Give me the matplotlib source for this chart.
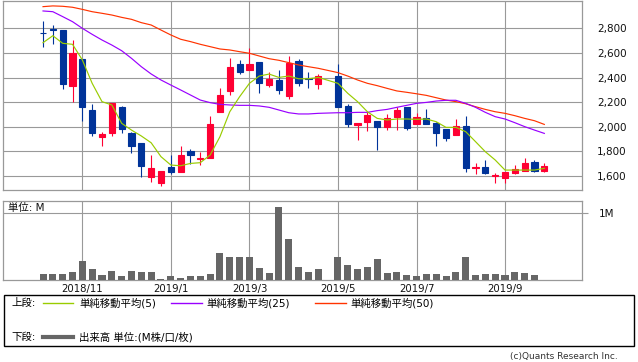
import matplotlib
matplotlib.use("Agg")
import matplotlib.pyplot as plt
import matplotlib.dates as mdates
from matplotlib.patches import Rectangle
from matplotlib.lines import Line2D
import pandas as pd
import numpy as np

plt.rcParams['font.family'] = ['DejaVu Sans', 'Noto Sans CJK JP']

# ---- data (weekly, Golden Week 2019-04-29 had no trading) ----
weeks = [d for d in pd.date_range('2018-10-08', '2019-09-30', freq='W-MON')
         if d != pd.Timestamp('2019-04-29')]

opens  = [2765, 2797, 2786, 2334, 2551, 2136, 1919, 1952, 2160, 1952, 1868, 1594, 1545,
          1673, 1635, 1803, 1740, 1749, 2122, 2293, 2510, 2464, 2526, 2342, 2380, 2250,
          2534, 2394, 2350, 2412, 2169, 2017, 2041, 2047, 1998, 2082, 2160, 2025, 2071,
          2028, 1982, 1935, 2006, 1668, 1670, 1600, 1580, 1621, 1640, 1711, 1643]
highs  = [2860, 2827, 2786, 2705, 2551, 2182, 1955, 2196, 2169, 1960, 1868, 1770, 1640,
          1770, 1843, 1819, 1795, 2087, 2312, 2556, 2543, 2643, 2526, 2445, 2461, 2575,
          2548, 2445, 2428, 2510, 2185, 2028, 2122, 2047, 2104, 2157, 2160, 2109, 2144,
          2036, 1982, 2063, 2087, 1702, 1727, 1621, 1635, 1686, 1746, 1727, 1705]
lows   = [2651, 2670, 2310, 2204, 2049, 1927, 1846, 1927, 1952, 1789, 1594, 1553, 1521,
          1618, 1635, 1697, 1692, 1749, 2122, 2261, 2431, 2464, 2277, 2326, 2269, 2228,
          2334, 2315, 2309, 2163, 2001, 1892, 1968, 1811, 1976, 1976, 1976, 2025, 2025,
          1846, 1887, 1935, 1635, 1612, 1612, 1539, 1539, 1612, 1640, 1635, 1632]
closes = [2760, 2790, 2350, 2602, 2163, 1952, 1941, 2190, 1984, 1846, 1684, 1664, 1640,
          1632, 1770, 1773, 1746, 2022, 2258, 2486, 2448, 2510, 2358, 2388, 2301, 2518,
          2358, 2388, 2412, 2163, 2025, 2028, 2095, 1998, 2071, 2133, 1992, 2079, 2025,
          1952, 1911, 2006, 1667, 1672, 1627, 1604, 1629, 1654, 1702, 1640, 1681]

ma5  = [2683, 2740, 2678, 2670, 2543, 2353, 2204, 2177, 2028, 1973, 1925, 1870, 1757,
        1689, 1683, 1702, 1708, 1770, 1919, 2122, 2244, 2353, 2412, 2428, 2401, 2412,
        2390, 2390, 2401, 2353, 2272, 2204, 2122, 2068, 2055, 2063, 2063, 2060, 2063,
        2041, 1995, 1995, 1960, 1879, 1797, 1730, 1648, 1648, 1648, 1648, 1662]
ma25 = [2941, 2935, 2895, 2854, 2800, 2751, 2705, 2664, 2618, 2556, 2488, 2429, 2380,
        2339, 2299, 2258, 2217, 2196, 2182, 2177, 2174, 2174, 2169, 2158, 2136, 2114,
        2104, 2104, 2109, 2114, 2114, 2117, 2117, 2131, 2141, 2158, 2174, 2190, 2198,
        2209, 2215, 2215, 2190, 2158, 2117, 2082, 2063, 2033, 2001, 1973, 1946]
ma50 = [2976, 2982, 2979, 2971, 2954, 2935, 2922, 2908, 2889, 2873, 2846, 2827, 2786,
        2746, 2711, 2692, 2670, 2651, 2632, 2624, 2610, 2597, 2575, 2553, 2540, 2521,
        2502, 2488, 2475, 2440, 2412, 2380, 2353, 2334, 2312, 2291, 2280, 2268, 2255,
        2236, 2217, 2204, 2187, 2163, 2141, 2122, 2109, 2090, 2068, 2049, 2019]

volume = [0.09, 0.09, 0.09, 0.12, 0.285, 0.165, 0.075, 0.135, 0.06, 0.135, 0.12, 0.12,
          0.015, 0.06, 0.03, 0.06, 0.06, 0.09, 0.405, 0.345, 0.345, 0.345, 0.18, 0.105,
          1.095, 0.62, 0.195, 0.12, 0.165, 0.345, 0.225, 0.165, 0.195, 0.315, 0.105,
          0.12, 0.075, 0.06, 0.09, 0.09, 0.06, 0.12, 0.345, 0.075, 0.09, 0.09, 0.075,
          0.12, 0.105, 0.075, 0.005]

month_ticks = ['2018-11-05', '2019-01-07', '2019-03-04', '2019-05-06', '2019-07-01', '2019-09-02']
month_labels = ['2018/11', '2019/1', '2019/3', '2019/5', '2019/7', '2019/9']
price_ticks = [1600, 1800, 2000, 2200, 2400, 2600, 2800]

# ---- styling ----
UP = '#ff0033'
DOWN = '#003399'
C5, C25, C50 = '#99cc00', '#9900ff', '#ff3300'
GRID = '#999999'
VOLC = '#666666'

W, H = 638, 362
fig = plt.figure(figsize=(W / 100, H / 100), dpi=100)

def fx(px):
    return px / W

def fy(py):
    return 1 - py / H

x = mdates.date2num(weeks)
mt = mdates.date2num(pd.to_datetime(month_ticks))
xmin = mdates.date2num(pd.Timestamp('2018-09-09 12:00'))
xmax = mdates.date2num(pd.Timestamp('2019-10-26 20:00'))

ax1 = fig.add_axes([fx(3), fy(190), fx(579), 189.5 / H])
ax2 = fig.add_axes([fx(3), fy(280), fx(579), 79 / H])

for ax in (ax1, ax2):
    ax.set_xlim(xmin, xmax)
    for s in ax.spines.values():
        s.set_color(GRID)
        s.set_linewidth(0.9)
    ax.set_xticks(mt)
    ax.grid(True, color=GRID, linewidth=0.8)
    ax.set_axisbelow(True)
    ax.yaxis.tick_right()

# ---- candles ----
o = np.array(opens); c = np.array(closes); h = np.array(highs); l = np.array(lows)
cols = [UP if cc >= oo else DOWN for oo, cc in zip(o, c)]
ax1.vlines(x, l, h, colors=cols, linewidth=0.8, zorder=3)
ax1.bar(x, np.abs(c - o), bottom=np.minimum(o, c), width=4.4, color=cols,
        edgecolor=cols, linewidth=0.8, zorder=4)

ax1.plot(x, ma50, color=C50, linewidth=0.85, zorder=5)
ax1.plot(x, ma25, color=C25, linewidth=0.85, zorder=5)
ax1.plot(x, ma5, color=C5, linewidth=0.85, zorder=5)

ax1.set_ylim(1486, 3026)
ax1.set_yticks(price_ticks)
ax1.set_yticklabels([f'{v:,}' for v in price_ticks])
ax1.tick_params(axis='y', length=0, pad=11, labelsize=7.5, labelcolor='#111111')
ax1.tick_params(axis='x', length=0, labelbottom=False)

# ---- volume ----
ax2.bar(x, volume, width=5, color=VOLC, zorder=3)
ax2.set_ylim(0, 1.184)
ax2.set_yticks([1.0])
ax2.set_yticklabels(['1M'])
ax2.tick_params(axis='y', length=4, width=0.8, color=GRID, pad=8, labelsize=7.5,
                labelcolor='#111111')
ax2.set_xticklabels(month_labels)
ax2.tick_params(axis='x', length=0, pad=3, labelsize=7.3, labelcolor='#111111')
ax2.text(5 / 579, (280 - 208) / 79, '単位: M', transform=ax2.transAxes,
         fontsize=7.5, va='center', ha='left', color='#111111')

# ---- legend box ----
fig.patches.append(Rectangle((fx(3.5), fy(346)), fx(630.5), (346 - 295) / H,
                             transform=fig.transFigure, fill=False,
                             edgecolor='black', linewidth=1))
fs = 7.5
fig.text(fx(11), fy(303), '上段:', fontsize=fs, va='center', ha='left')
fig.add_artist(Line2D([fx(43), fx(73)], [fy(303), fy(303)], color=C5, linewidth=1,
                      transform=fig.transFigure))
fig.text(fx(79), fy(303), '単純移動平均(5)', fontsize=fs, va='center', ha='left')
fig.add_artist(Line2D([fx(171), fx(202)], [fy(303), fy(303)], color=C25, linewidth=1,
                      transform=fig.transFigure))
fig.text(fx(206), fy(303), '単純移動平均(25)', fontsize=fs, va='center', ha='left')
fig.add_artist(Line2D([fx(315), fx(346)], [fy(303), fy(303)], color=C50, linewidth=1,
                      transform=fig.transFigure))
fig.text(fx(350), fy(303), '単純移動平均(50)', fontsize=fs, va='center', ha='left')

fig.text(fx(11), fy(337), '下段:', fontsize=fs, va='center', ha='left')
fig.add_artist(Line2D([fx(43), fx(73)], [fy(337), fy(337)], color=VOLC, linewidth=3,
                      transform=fig.transFigure))
fig.text(fx(79), fy(337), '出来高 単位:(M株/口/枚)', fontsize=fs, va='center', ha='left')

fig.text(fx(618), fy(356), '(c)Quants Research Inc.', fontsize=6.5, va='center',
         ha='right', color='#333333')

fig.savefig('out.png', dpi=100)
